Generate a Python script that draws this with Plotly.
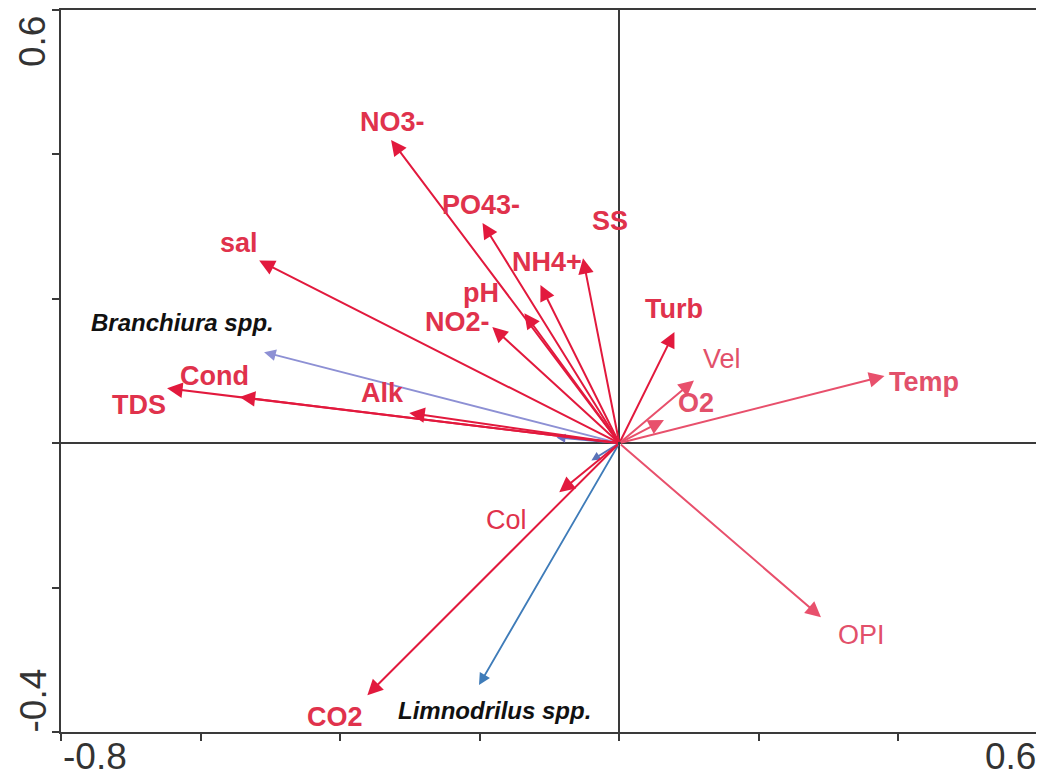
import plotly.graph_objects as go

# ---- data (biplot arrow tips) ----
env_names = ["NO3-", "PO43-", "SS", "NH4+", "pH", "NO2-", "sal", "Cond", "TDS",
             "Alk", "Turb", "Vel", "O2", "Temp", "OPI", "Col", "CO2"]
env_x = [-0.327, -0.196, -0.052, -0.113, -0.136, -0.182, -0.516, -0.544, -0.648,
         -0.301, 0.079, 0.107, 0.064, 0.380, 0.289, -0.086, -0.361]
env_y = [0.420, 0.305, 0.256, 0.219, 0.180, 0.161, 0.253, 0.064, 0.076,
         0.042, 0.154, 0.087, 0.032, 0.093, -0.241, -0.068, -0.349]

sp_names = ["Branchiura spp.", "Limnodrilus spp.", "", ""]
sp_x = [-0.509, -0.201, -0.090, -0.040]
sp_y = [0.126, -0.335, 0.008, -0.024]

x_ticks = [-0.8, -0.6, -0.4, -0.2, 0.0, 0.2, 0.4, 0.6]
y_ticks = [-0.4, -0.2, 0.0, 0.2, 0.4, 0.6]
x_labels = {-0.8: "-0.8", 0.6: "0.6"}
y_labels = {-0.4: "-0.4", 0.6: "0.6"}

# ---- styles ----
label_shift = {  # pixel offsets of labels from arrow tips
    "NO3-": (1, 18), "PO43-": (-2, 18), "SS": (27, 37), "NH4+": (7, 23),
    "pH": (-43, 20), "NO2-": (-35, 5), "sal": (-20, 18), "Cond": (-25, 21),
    "TDS": (-28, -17), "Alk": (-27, 20), "Turb": (0, 23), "Vel": (28, 21),
    "O2": (32, 17), "Temp": (40, -6), "OPI": (41, -18), "Col": (-53, -28),
    "CO2": (-32, -22),
    "Branchiura spp.": (-82, 30), "Limnodrilus spp.": (15, -25),
}
light = {"Temp", "OPI", "Vel", "O2"}
normal_weight = {"Vel", "OPI", "Col"}
sp_line = ["#8d90d4", "#3f7cb9", "#6b6fc0", "#5a73b8"]

fig = go.Figure()
fig.add_trace(go.Scatter(x=[0], y=[0], mode="markers",
                         marker=dict(size=1, color="rgba(0,0,0,0)"),
                         hoverinfo="skip", showlegend=False))

ann = []
# species arrows
for n, x, y, c in zip(sp_names, sp_x, sp_y, sp_line):
    ann.append(dict(x=x, y=y, ax=0, ay=0, xref="x", yref="y", axref="x", ayref="y",
                    text="", showarrow=True, arrowhead=2, arrowsize=1.3 if n else 1.0,
                    arrowwidth=1.8, arrowcolor=c, standoff=0, startstandoff=0))
# environmental arrows
for n, x, y in zip(env_names, env_x, env_y):
    col = "#e8506c" if n in light else "#e2193d"
    ann.append(dict(x=x, y=y, ax=0, ay=0, xref="x", yref="y", axref="x", ayref="y",
                    text="", showarrow=True, arrowhead=2, arrowsize=1.55,
                    arrowwidth=2, arrowcolor=col, standoff=0, startstandoff=0))
# environmental labels
for n, x, y in zip(env_names, env_x, env_y):
    dx, dy = label_shift[n]
    col = "#e2506a" if n in light else "#e0324c"
    txt = n if n in normal_weight else "<b>" + n + "</b>"
    ann.append(dict(x=x, y=y, xref="x", yref="y", text=txt, showarrow=False,
                    xshift=dx, yshift=dy,
                    font=dict(family="Liberation Sans", size=27, color=col)))
# species labels
for n, x, y in zip(sp_names, sp_x, sp_y):
    if not n:
        continue
    dx, dy = label_shift[n]
    ann.append(dict(x=x, y=y, xref="x", yref="y", text="<b><i>" + n + "</i></b>",
                    showarrow=False, xshift=dx, yshift=dy,
                    font=dict(family="Liberation Sans", size=24, color="#111111")))
# axis end labels
for v, t in x_labels.items():
    ann.append(dict(x=v, y=0, xref="x", yref="paper", text=t, showarrow=False,
                    xanchor="left" if v < 0 else "right", yanchor="top", yshift=-2,
                    font=dict(family="Liberation Sans", size=37, color="#333333")))
for v, t in y_labels.items():
    ann.append(dict(x=0, y=v, xref="paper", yref="y", text=t, showarrow=False,
                    textangle=-90, xanchor="right", xshift=-6,
                    yanchor="bottom" if v < 0 else "top",
                    yshift=-2 if v < 0 else -4,
                    font=dict(family="Liberation Sans", size=37, color="#333333")))

axis_common = dict(showgrid=False, zeroline=True, zerolinecolor="#3a3a3a",
                   zerolinewidth=2, showline=True, mirror=True, linecolor="#3a3a3a",
                   linewidth=2, ticks="outside", ticklen=7, tickwidth=2,
                   tickcolor="#3a3a3a", showticklabels=False)
# page body has an 8px margin: figure is sized/margined so the plot box lands
# at x 61..1038, y 10..732 in the browser window
fig.update_layout(
    width=1036, height=776,
    margin=dict(l=53, r=6, t=2, b=52, autoexpand=False),
    paper_bgcolor="white", plot_bgcolor="white",
    xaxis=dict(range=[-0.8, 0.6], tickvals=x_ticks, **axis_common),
    yaxis=dict(range=[-0.4, 0.6], tickvals=y_ticks, **axis_common),
    annotations=ann, showlegend=False,
)
fig.write_html("out.html")
